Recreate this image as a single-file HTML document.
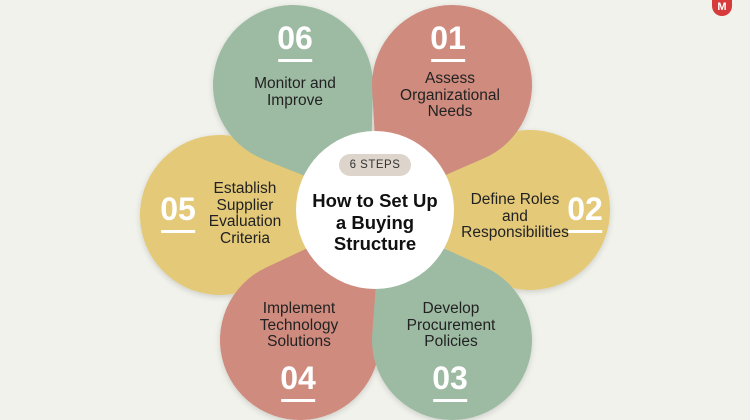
<!DOCTYPE html>
<html><head><style>
html,body{margin:0;width:750px;height:420px;overflow:hidden}
body{background:#f1f2ec;font-family:"Liberation Sans",sans-serif;position:relative}
svg{position:absolute;left:0;top:0}
.t{position:absolute;font-size:15.5px;line-height:16.6px;color:#222;text-align:center;transform:translateX(-50%);white-space:nowrap}
.n{position:absolute;color:#fff;font-weight:bold;font-size:32px;transform:translateX(-50%);line-height:34px}
.n:after{content:"";display:block;margin:4px auto 0;width:34px;height:3px;background:#fff}
</style></head><body>
<svg width="750" height="420">
<defs>
<path id="pt" d="M140 0 L45.9 65.5 A80 80 0 1 1 45.9 -65.5 Z"/>
<filter id="sh" x="-20%" y="-20%" width="140%" height="140%"><feDropShadow dx="0" dy="2" stdDeviation="3" flood-opacity="0.15"/></filter>
</defs>
<g filter="url(#sh)">
<use href="#pt" fill="#e3c978" transform="translate(530,210) rotate(180)"/>
<use href="#pt" fill="#e3c978" transform="translate(220,215) rotate(-1.8)"/>
<use href="#pt" fill="#cf8b7e" transform="translate(300,340) rotate(-60)"/>
<use href="#pt" fill="#9dbba3" transform="translate(452,340) rotate(-120.6)"/>
<use href="#pt" fill="#9dbba3" transform="translate(293,85) rotate(56.7)"/>
<use href="#pt" fill="#cf8b7e" transform="translate(452,85) rotate(121.6)"/>
<circle cx="375" cy="210" r="79" fill="#fff"/>
</g>
</svg>
<div style="position:absolute;left:339px;top:154px;width:72px;height:22px;border-radius:11px;background:#ddd5cc;font-size:11.5px;line-height:22px;text-align:center;color:#333;letter-spacing:.5px">6 STEPS</div>
<div class="t" style="left:375px;top:190px;font-weight:bold;font-size:18.5px;line-height:21.5px;color:#111">How to Set Up<br>a Buying<br>Structure</div>
<div class="n" style="left:295px;top:21px">06</div>
<div class="t" style="left:295px;top:76px">Monitor and<br>Improve</div>
<div class="n" style="left:448px;top:21px">01</div>
<div class="t" style="left:450px;top:71px">Assess<br>Organizational<br>Needs</div>
<div class="n" style="left:585px;top:192px">02</div>
<div class="t" style="left:515px;top:192px">Define Roles<br>and<br>Responsibilities</div>
<div class="n" style="left:178px;top:192px">05</div>
<div class="t" style="left:245px;top:181px">Establish<br>Supplier<br>Evaluation<br>Criteria</div>
<div class="t" style="left:299px;top:301px">Implement<br>Technology<br>Solutions</div>
<div class="n" style="left:298px;top:361px">04</div>
<div class="t" style="left:451px;top:301px">Develop<br>Procurement<br>Policies</div>
<div class="n" style="left:450px;top:361px">03</div>
<div style="position:absolute;left:712px;top:0;width:20px;height:16px;background:#d63a3a;border-radius:0 0 10px 10px;color:#fff;font-weight:bold;font-size:11px;text-align:center;line-height:14px">M</div>
</body></html>
